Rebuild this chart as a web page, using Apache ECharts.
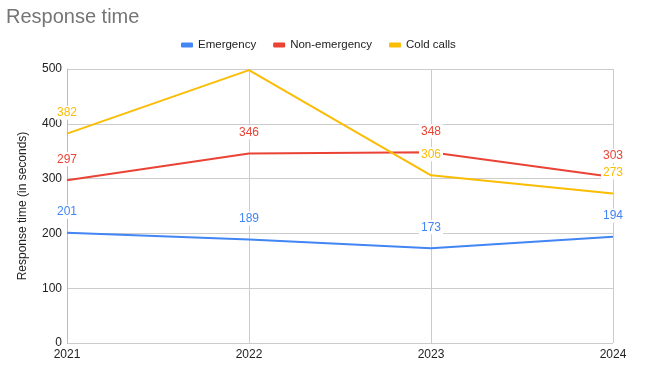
<!DOCTYPE html>
<html>
<head>
<meta charset="utf-8">
<script src="https://cdn.jsdelivr.net/npm/echarts@6/dist/echarts.min.js"></script>
<style>html,body{margin:0;padding:0;background:#fff}#c{width:650px;height:373px}</style>
</head>
<body>
<div id="c"></div>
<script>
const categories = ['2021', '2022', '2023', '2024'];
const emergency = [201, 189, 173, 194];
const nonEmergency = [297, 346, 348, 303];
const coldCalls = [382, 498, 306, 273];
const hiddenLabels = { 'Cold calls': [1] };
const yTicks = { min: 0, max: 500, interval: 100 };

const chart = echarts.init(document.getElementById('c'), null, { renderer: 'canvas' });
const font = 'Liberation Sans, Arial, sans-serif';
function mk(name, data, color) {
  const hide = hiddenLabels[name] || [];
  return {
    name, type: 'line', data: data.map((v, i) => hide.includes(i) ? { value: v, label: { show: false } } : v),
    color, showSymbol: true, symbol: 'circle', symbolSize: 0.01, lineStyle: { width: 2, color },
    itemStyle: { color },
    label: { show: true, position: 'top', distance: 14, color, fontSize: 12, fontFamily: font,
      backgroundColor: '#fff', padding: [1, 2] },
    emphasis: { disabled: true }
  };
}
chart.setOption({
  animation: false,
  backgroundColor: '#fff',
  title: { text: 'Response time', left: 1, top: 2, textStyle: { fontFamily: font, fontSize: 20, fontWeight: 'normal', color: '#757575' } },
  legend: {
    top: 34, left: 176, icon: 'roundRect', itemWidth: 12, itemHeight: 5, itemGap: 17,
    textStyle: { fontFamily: font, fontSize: 11.5, color: '#222' },
    data: ['Emergency', 'Non-emergency', 'Cold calls']
  },
  grid: { left: 67, right: 37, top: 69, bottom: 30, containLabel: false },
  xAxis: {
    type: 'category', data: categories, boundaryGap: false,
    axisLine: { show: false }, axisTick: { show: false },
    axisLabel: { color: '#222', fontSize: 12, fontFamily: font, margin: 6 },
    splitLine: { show: true, lineStyle: { color: '#ccc', width: 1 } }
  },
  yAxis: {
    type: 'value', min: yTicks.min, max: yTicks.max, interval: yTicks.interval,
    name: 'Response time (in seconds)', nameLocation: 'middle', nameGap: 38,
    nameTextStyle: { fontFamily: font, fontSize: 12, color: '#222' },
    axisLine: { show: true, lineStyle: { color: '#bbb', width: 1 } }, axisTick: { show: false },
    axisLabel: { color: '#222', fontSize: 12, fontFamily: font, margin: 5 },
    splitLine: { show: true, lineStyle: { color: '#ccc', width: 1 } }
  },
  series: [
    mk('Emergency', emergency, '#4285F4'),
    mk('Non-emergency', nonEmergency, '#EA4335'),
    mk('Cold calls', coldCalls, '#FBBC04')
  ]
});
</script>
</body>
</html>
